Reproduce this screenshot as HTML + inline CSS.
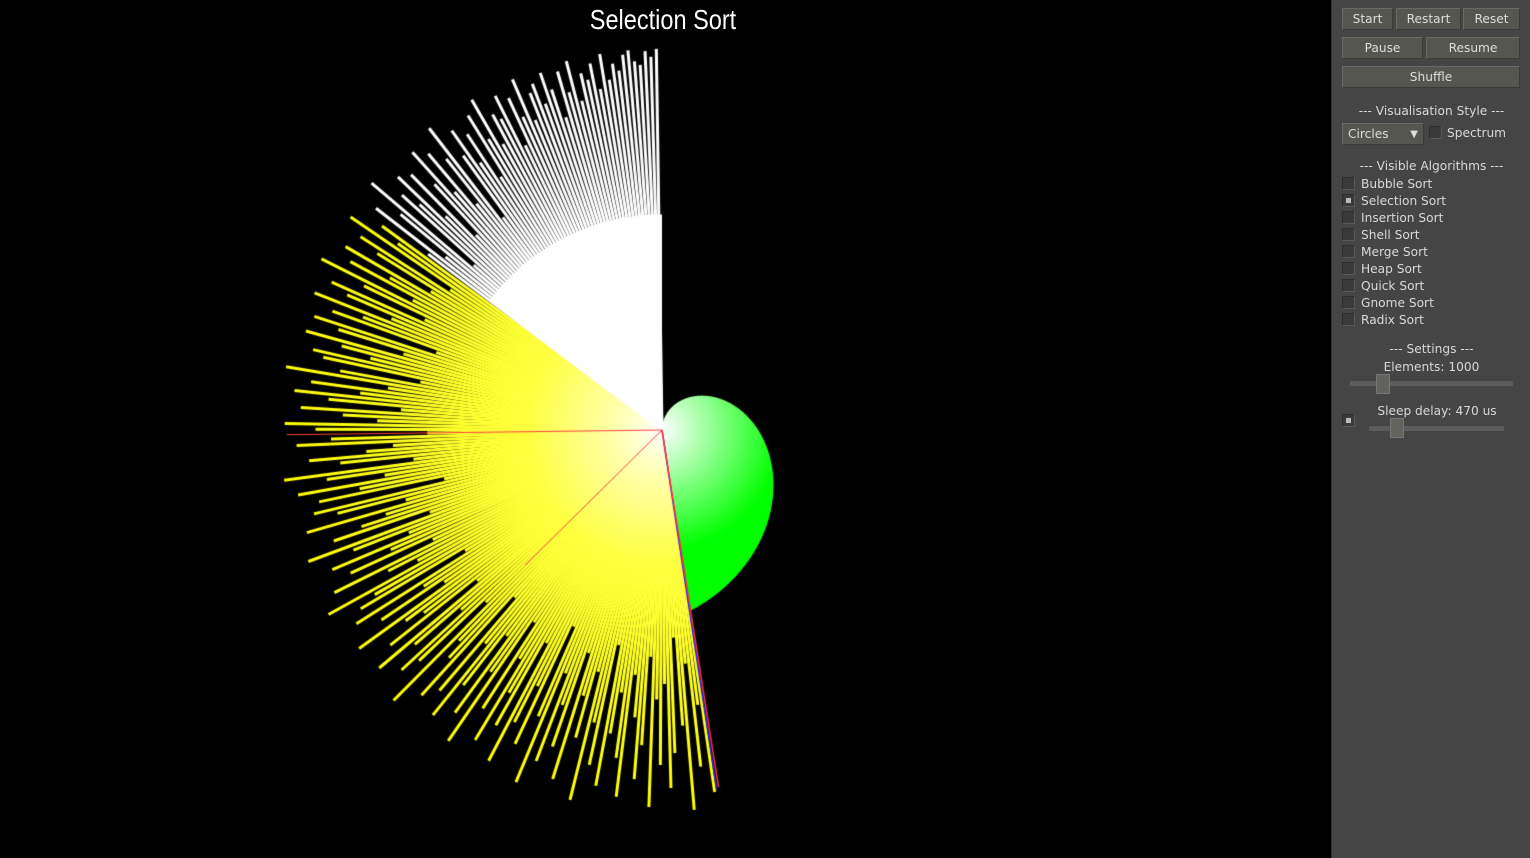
<!DOCTYPE html>
<html><head><meta charset="utf-8">
<style>
body{margin:0;width:1530px;height:858px;background:#000;overflow:hidden;font-family:"DejaVu Sans","Liberation Sans",sans-serif;}
#viz{position:absolute;left:0;top:0;}
#title{position:absolute;left:563px;top:4px;width:200px;text-align:center;color:#fff;font:28px "Liberation Sans",sans-serif;transform:scaleX(0.84);}
#panel{position:absolute;left:1331px;top:0;width:199px;height:858px;background:#454545;border-left:1px solid #333;box-sizing:border-box;color:#d8d8d8;font-size:12.2px;}
.btn{position:absolute;height:22px;background:#55564f;border:1px solid #6a6b64;border-bottom-color:#3a3a36;border-right-color:#3a3a36;box-sizing:border-box;text-align:center;line-height:21px;color:#ddd;}
.hd{position:absolute;left:0;width:199px;text-align:center;}
.cb{position:absolute;width:13px;height:13px;background:#3a3a3a;border:1px solid #2e2e2e;border-bottom-color:#5a5a5a;border-right-color:#5a5a5a;box-sizing:border-box;}
.cb.on::after{content:"";position:absolute;left:3px;top:3px;width:5px;height:5px;background:#bbb;}
.lbl{position:absolute;left:29px;}
.track{position:absolute;height:5px;background:#5c5c5c;}
.thumb{position:absolute;width:14px;height:20px;background:#62635d;border:1px solid #777;box-sizing:border-box;}
</style></head><body>
<canvas id="viz" width="1331" height="858"></canvas>
<div id="title">Selection Sort</div>
<div id="panel">
<div class="btn" style="left:10px;top:8px;width:51px">Start</div>
<div class="btn" style="left:64px;top:8px;width:65px">Restart</div>
<div class="btn" style="left:131px;top:8px;width:57px">Reset</div>
<div class="btn" style="left:10px;top:37px;width:81px">Pause</div>
<div class="btn" style="left:94px;top:37px;width:94px">Resume</div>
<div class="btn" style="left:10px;top:66px;width:178px">Shuffle</div>
<div class="hd" style="top:104px">--- Visualisation Style ---</div>
<div class="btn" style="left:10px;top:123px;width:82px;text-align:left;padding-left:5px">Circles<span style="position:absolute;right:5px;font-size:10px">▼</span></div>
<div class="cb" style="left:97px;top:126px"></div>
<div style="position:absolute;left:115px;top:126px">Spectrum</div>
<div class="hd" style="top:159px">--- Visible Algorithms ---</div>
<div class="cb" style="left:10px;top:177px"></div><div class="lbl" style="top:177px">Bubble Sort</div>
<div class="cb on" style="left:10px;top:194px"></div><div class="lbl" style="top:194px">Selection Sort</div>
<div class="cb" style="left:10px;top:211px"></div><div class="lbl" style="top:211px">Insertion Sort</div>
<div class="cb" style="left:10px;top:228px"></div><div class="lbl" style="top:228px">Shell Sort</div>
<div class="cb" style="left:10px;top:245px"></div><div class="lbl" style="top:245px">Merge Sort</div>
<div class="cb" style="left:10px;top:262px"></div><div class="lbl" style="top:262px">Heap Sort</div>
<div class="cb" style="left:10px;top:279px"></div><div class="lbl" style="top:279px">Quick Sort</div>
<div class="cb" style="left:10px;top:296px"></div><div class="lbl" style="top:296px">Gnome Sort</div>
<div class="cb" style="left:10px;top:313px"></div><div class="lbl" style="top:313px">Radix Sort</div>
<div class="hd" style="top:342px">--- Settings ---</div>
<div class="hd" style="top:360px">Elements: 1000</div>
<div class="track" style="left:18px;top:381px;width:163px"></div>
<div class="thumb" style="left:44px;top:374px"></div>
<div class="cb on" style="left:10px;top:414px"></div>
<div class="hd" style="top:404px;left:37px;width:136px">Sleep delay: 470 us</div>
<div class="track" style="left:37px;top:426px;width:135px"></div>
<div class="thumb" style="left:58px;top:418px"></div>
</div>
<script>
const totalElements = 1000;
const sortedCount = 475;
const whiteFromIndex = 852;
const unsortedValues = [950,720,880,610,990,770,540,840,930,660,870,700,980,590,820,910,750,640,960,860,
690,800,940,570,890,780,990,650,830,720,950,610,870,760,920,680,990,810,560,900,
740,850,970,630,880,790,940,700,860,600,980,770,910,670,840,950,720,890,580,930,
810,760,990,640,870,920,700,850,960,620,900,780,830,970,690,880,740,940,600,910,
860,990,720,800,950,660,890,770,930,710,860,980,640,900,820,750,960,690,870,930,
580,910,800,960,730,880,990,650,840,920,770,700,950,860,610,900,980,740,830,940,
680,870,960,790,920,720,990,850,640,900,930,780,860,960,700,880,950,620,910,830,
970,760,890,940,680,860,990,730,920,810,950,700,870,930,660,980,840,900,760,940,
720,880,990,650,910,860,950,790,930,700,870,970,820,940,760,900,990,690,880,950,
840,920,780,960,880,990,850,930,910,970,820,950,890,990,870,940,960,900,980,930,
850,970,910,990,880,950,930,970,900,990,920,960,940,980,990,960,950,985,970,990];
const swapIndex = 476;
const swapValue = 945;
const minIndex = 475;
const minValue = 940;
const otherRedIndices = [748, 626];
const otherRedValues = [975, 500];

const cv = document.getElementById('viz');
const ctx = cv.getContext('2d');
const cx = 662, cy = 430, maxR = 385;
function angleOf(i){ return (-90 + i / totalElements * 360) * Math.PI / 180; }
function radiusOf(v){ return v / totalElements * maxR; }

const gg = ctx.createRadialGradient(cx, cy, 0, cx, cy, 120);
gg.addColorStop(0, '#ffffff'); gg.addColorStop(1, '#00ff00');
ctx.fillStyle = gg;
ctx.beginPath(); ctx.moveTo(cx, cy);
for (let i = 0; i <= sortedCount; i++) {
  const a = angleOf(i), r = radiusOf(i);
  ctx.lineTo(cx + Math.cos(a) * r, cy + Math.sin(a) * r);
}
ctx.closePath(); ctx.fill();

const yg = ctx.createRadialGradient(cx, cy, 0, cx, cy, maxR);
yg.addColorStop(0, '#ffffff'); yg.addColorStop(0.12, '#ffffb0'); yg.addColorStop(0.35, '#ffff40'); yg.addColorStop(1, '#ffff00');
ctx.lineWidth = 3;
const n = unsortedValues.length;
for (let k = 0; k < n; k++) {
  const idx = sortedCount + 2 + k * (totalElements - sortedCount - 2) / n;
  const a = angleOf(idx), r = radiusOf(unsortedValues[k]);
  ctx.strokeStyle = idx >= whiteFromIndex ? '#ffffff' : yg;
  ctx.beginPath(); ctx.moveTo(cx, cy);
  ctx.lineTo(cx + Math.cos(a) * r, cy + Math.sin(a) * r); ctx.stroke();
}
ctx.fillStyle = '#fff';
ctx.beginPath(); ctx.moveTo(cx, cy);
for (let k = 0; k < n; k++) {
  const idx = sortedCount + 2 + k * (totalElements - sortedCount - 2) / n;
  if (idx < whiteFromIndex) continue;
  const a = angleOf(idx), r = radiusOf(Math.min(unsortedValues[k], 560));
  ctx.lineTo(cx + Math.cos(a) * r, cy + Math.sin(a) * r);
}
ctx.lineTo(cx, cy - radiusOf(560)); ctx.closePath(); ctx.fill();

ctx.lineWidth = 1.5;
function ray(i, v, c){ const a = angleOf(i), r = radiusOf(v);
  ctx.strokeStyle = c; ctx.beginPath(); ctx.moveTo(cx, cy);
  ctx.lineTo(cx + Math.cos(a) * r, cy + Math.sin(a) * r); ctx.stroke(); }
ray(swapIndex, swapValue, '#2020ff');
ray(minIndex, minValue, '#ff3030');
ctx.lineWidth = 1;
for (let j = 0; j < otherRedIndices.length; j++) ray(otherRedIndices[j], otherRedValues[j], '#ff4040');
</script>
</body></html>
